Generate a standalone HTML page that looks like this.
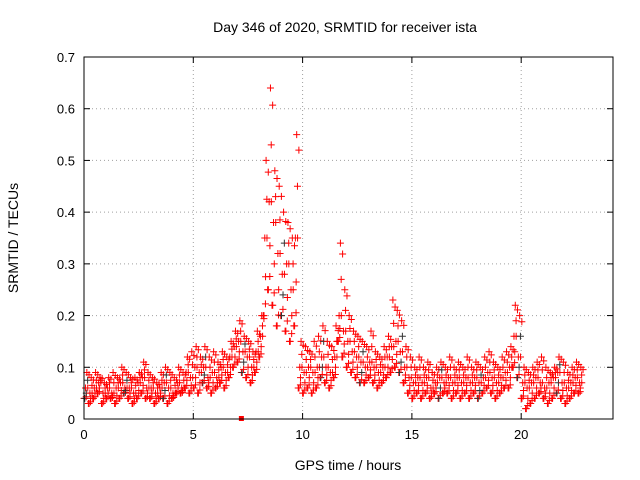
<!DOCTYPE html>
<html><head><meta charset="utf-8"><style>
body{margin:0;background:#fff}
svg{display:block;font-family:"Liberation Sans",sans-serif}
</style></head><body>
<svg id="chart" width="640" height="480">
<text x="345" y="32" text-anchor="middle" font-size="14">Day 346 of 2020, SRMTID for receiver ista</text>
<text x="348" y="470" text-anchor="middle" font-size="14">GPS time / hours</text>
<text transform="translate(18,238) rotate(-90)" text-anchor="middle" font-size="14">SRMTID / TECUs</text>
<g id="grid"></g><g id="ticks"></g><g id="marks"></g>
<rect x="84" y="57" width="529" height="362" fill="none" stroke="#000"/>
</svg>
<script>
const xTicks=[0,5,10,15,20];
const yTicks=[0,0.1,0.2,0.3,0.4,0.5,0.6,0.7];
const yTickLabels=["0","0.1","0.2","0.3","0.4","0.5","0.6","0.7"];
const loVals=[0.04,0.03,0.04,0.05,0.03,0.04,0.04,0.03,0.04,0.05,0.04,0.03,0.04,0.05,0.04,0.04,0.03,0.04,0.04,0.03,0.04,0.05,0.05,
0.06,0.05,0.06,0.05,0.07,0.06,0.05,0.06,0.07,0.06,
0.08,0.10,0.11,0.09,0.08,0.07,0.09,0.12,
0.20,0.25,0.22,0.18,0.20,0.17,0.15,0.18,
0.06,0.05,0.06,0.05,0.06,0.08,0.07,0.06,0.08,
0.15,0.12,0.10,0.09,0.08,0.07,0.07,0.08,
0.07,0.06,0.07,0.08,0.09,0.10,0.09,0.07,0.05,
0.04,0.05,0.04,0.05,0.04,0.05,0.04,0.05,0.05,0.04,0.05,0.04,0.05,0.04,0.05,0.04,0.05,0.06,0.05,0.04,0.05,0.06,0.06,
0.10,0.08,
0.04,0.02,0.03,0.04,0.05,0.04,0.03,0.04,0.05,0.04,0.03,0.04,0.05,0.05];
const midVals=[0.06,0.05,0.06,0.07,0.05,0.06,0.05,0.06,0.07,0.06,0.06,0.05,0.07,0.08,0.06,0.06,0.05,0.06,0.07,0.06,0.05,0.07,0.06,
0.09,0.08,0.10,0.09,0.10,0.08,0.09,0.08,0.10,0.09,
0.12,0.14,0.15,0.13,0.12,0.10,0.13,0.16,
0.35,0.42,0.38,0.32,0.28,0.30,0.25,0.35,
0.10,0.09,0.10,0.09,0.10,0.12,0.10,0.09,0.12,
0.20,0.17,0.15,0.13,0.12,0.11,0.10,0.11,
0.10,0.09,0.10,0.12,0.14,0.15,0.13,0.10,0.08,
0.07,0.08,0.07,0.08,0.06,0.07,0.08,0.07,0.08,0.07,0.08,0.07,0.08,0.07,0.08,0.07,0.08,0.09,0.08,0.07,0.08,0.09,0.10,
0.16,0.12,
0.07,0.06,0.07,0.08,0.07,0.06,0.07,0.08,0.09,0.07,0.06,0.07,0.08,0.07];
const hiVals=[0.09,0.08,0.09,0.08,0.07,0.08,0.09,0.08,0.10,0.09,0.08,0.08,0.09,0.11,0.09,0.08,0.07,0.09,0.10,0.09,0.08,0.10,0.09,
0.12,0.13,0.14,0.12,0.14,0.12,0.13,0.11,0.13,0.12,
0.15,0.17,0.19,0.16,0.15,0.13,0.17,0.20,
0.50,0.64,0.48,0.45,0.40,0.38,0.35,0.55,
0.15,0.14,0.13,0.15,0.16,0.18,0.15,0.14,0.18,
0.34,0.25,0.20,0.17,0.16,0.15,0.14,0.17,
0.13,0.12,0.14,0.16,0.23,0.21,0.19,0.14,0.12,
0.10,0.12,0.10,0.11,0.09,0.10,0.11,0.10,0.12,0.10,0.11,0.10,0.12,0.10,0.11,0.10,0.12,0.13,0.11,0.10,0.12,0.13,0.14,
0.22,0.20,
0.10,0.09,0.10,0.11,0.12,0.10,0.09,0.10,0.12,0.11,0.09,0.10,0.11,0.10];
const tStart=0, tStep=0.2;
const NS="http://www.w3.org/2000/svg";
const X0=84,X1=613,Y0=419,Y1=57,XMAX=24.2,YMAX=0.7;
function sx(v){return X0+v/XMAX*(X1-X0);}
function sy(v){return Y0-v/YMAX*(Y0-Y1);}
function mk(tag,at,parent){const e=document.createElementNS(NS,tag);for(const k in at)e.setAttribute(k,at[k]);parent.appendChild(e);return e;}
const grid=document.getElementById('grid'),ticks=document.getElementById('ticks'),marks=document.getElementById('marks');
xTicks.forEach(v=>{const x=sx(v);
 if(v>0){const g=mk('line',{x1:x,x2:x,y1:Y0,y2:Y1,stroke:'#a0a0a0','stroke-dasharray':'1,3'},grid);
 }
 mk('line',{x1:x,x2:x,y1:Y0,y2:Y0-6,stroke:'#000'},ticks);mk('line',{x1:x,x2:x,y1:Y1,y2:Y1+6,stroke:'#000'},ticks);
 const t=mk('text',{x:x,y:Y0+20,'text-anchor':'middle','font-size':13},ticks);t.textContent=v;
 });
yTicks.forEach((v,i)=>{const y=sy(v);
 if(v>0&&v<YMAX){const g=mk('line',{x1:X0,x2:X1,y1:y,y2:y,stroke:'#a0a0a0','stroke-dasharray':'1,3'},grid);
 }
 mk('line',{x1:X0,x2:X0+6,y1:y,y2:y,stroke:'#000'},ticks);mk('line',{x1:X1,x2:X1-6,y1:y,y2:y,stroke:'#000'},ticks);
 const t=mk('text',{x:X0-9,y:y+5,'text-anchor':'end','font-size':13},ticks);t.textContent=yTickLabels[i];
 });
function plus(t,v,col){const x=sx(t),y=sy(v);
 const p=mk('path',{d:`M${x-3.5},${y}h7M${x},${y-3.5}v7`,stroke:col,'stroke-width':1},marks);
 }
[[loVals,0],[midVals,0.07],[hiVals,0.13]].forEach(([arr,off])=>{
 arr.forEach((v,i)=>{const t=tStart+i*tStep+off;
  plus(t,v,'#ff0000');
  plus(t+0.035,(v+ (arr===hiVals?midVals[i]:arr===midVals?loVals[i]:v))/2,(i%9===0)?'#333':'#ff0000');
  plus(t+0.1,(v*0.85+midVals[i]*0.15),'#ff0000');});});
const sq=mk('rect',{x:sx(7.2)-2.5,y:sy(0)-3,width:5,height:5,fill:'#ff0000'},marks);

</script>
</body></html>
